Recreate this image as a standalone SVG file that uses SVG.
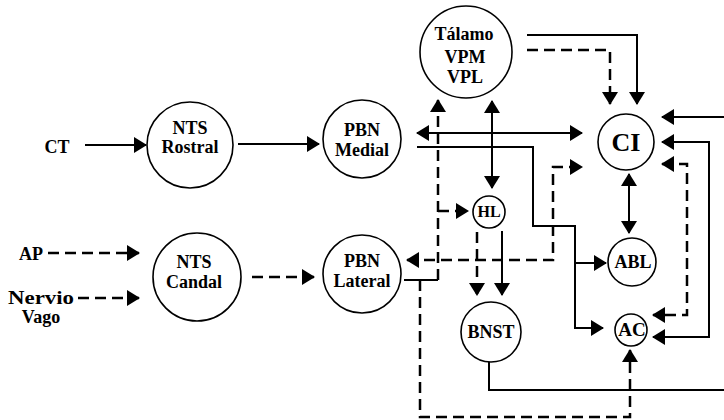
<svg xmlns="http://www.w3.org/2000/svg" width="724" height="420" viewBox="0 0 724 420">
<defs>
<marker id="ah" markerUnits="userSpaceOnUse" markerWidth="13" markerHeight="16" refX="12" refY="8" orient="auto-start-reverse">
<path d="M0,0 L13,8 L0,16 z" fill="#000"/>
</marker>
<style>
.n circle{fill:#fff;stroke:#000;stroke-width:1.6}
.n text, .lbl{font-family:"Liberation Serif","Times New Roman",serif;font-weight:bold;fill:#000;text-anchor:middle}
.s{fill:none;stroke:#000;stroke-width:2}
.d{fill:none;stroke:#000;stroke-width:2.5;stroke-dasharray:11 6}
</style>
</defs>
<rect width="724" height="420" fill="#fff"/>
<g id="connectors">
<path class="s" d="M85,145 H146" marker-end="url(#ah)"/>
<path class="s" d="M238,144 H319" marker-end="url(#ah)"/>
<path class="s" d="M417,133 H582" marker-start="url(#ah)" marker-end="url(#ah)"/>
<path class="s" d="M417,147 H533 V226 H575 V328 H603" marker-end="url(#ah)"/>
<path class="s" d="M575,263 H606" marker-end="url(#ah)"/>
<path class="s" d="M492,101 V188" marker-start="url(#ah)" marker-end="url(#ah)"/>
<path class="s" d="M527,35 H637 V104" marker-end="url(#ah)"/>
<path class="s" d="M629,174 V233" marker-start="url(#ah)" marker-end="url(#ah)"/>
<path class="s" d="M662,142 H709 V337 H653" marker-start="url(#ah)" marker-end="url(#ah)"/>
<path class="s" d="M502,231 V295" marker-end="url(#ah)"/>
<path class="s" d="M489,362 V390 H724"/>
<path class="s" d="M724,117 H662" marker-end="url(#ah)"/>
<path class="s" d="M404,280 H438"/>
<path class="d" d="M48,253 H139" marker-end="url(#ah)"/>
<path class="d" d="M78,298 H139" marker-end="url(#ah)"/>
<path class="d" d="M252,277 H314" marker-end="url(#ah)"/>
<path class="d" d="M527,50 H610 V104" marker-end="url(#ah)"/>
<path class="d" d="M438,280 V100" marker-end="url(#ah)"/>
<path class="d" d="M438,211 H468" marker-end="url(#ah)"/>
<path class="d" d="M420,280 V417 H630 V350" marker-end="url(#ah)"/>
<path class="d" d="M407,260 H553 V167 H582" marker-start="url(#ah)" marker-end="url(#ah)"/>
<path class="d" d="M477,232 V295" marker-end="url(#ah)"/>
<path class="d" d="M662,164 H687 V315 H653" marker-start="url(#ah)" marker-end="url(#ah)"/>
</g>
<g id="ct"><text class="lbl" x="57" y="153" font-size="18">CT</text></g>
<g id="ap"><text class="lbl" x="31" y="260" font-size="18">AP</text></g>
<g id="nervio"><text class="lbl" x="41" y="304" font-size="18" textLength="66" lengthAdjust="spacingAndGlyphs">Nervio</text><text class="lbl" x="41" y="323" font-size="18">Vago</text></g>
<g id="nts-rostral" class="n"><circle cx="190" cy="145" r="43"/><text x="190" y="134" font-size="18">NTS</text><text x="190" y="153" font-size="18">Rostral</text></g>
<g id="nts-caudal" class="n"><circle cx="197" cy="277" r="44"/><text x="194" y="268" font-size="18">NTS</text><text x="194" y="288" font-size="18">Candal</text></g>
<g id="pbn-medial" class="n"><circle cx="362" cy="139" r="39"/><text x="362" y="136" font-size="18">PBN</text><text x="362" y="156" font-size="18">Medial</text></g>
<g id="pbn-lateral" class="n"><circle cx="362" cy="274" r="39"/><text x="362" y="267" font-size="18">PBN</text><text x="362" y="287" font-size="18">Lateral</text></g>
<g id="talamo" class="n"><circle cx="466" cy="52" r="46"/><text x="464" y="40" font-size="18">Tálamo</text><text x="465" y="63" font-size="18">VPM</text><text x="465" y="83" font-size="18">VPL</text></g>
<g id="hl" class="n"><circle cx="489" cy="212" r="16"/><text x="489" y="217" font-size="16">HL</text></g>
<g id="ci" class="n"><circle cx="626" cy="142" r="28"/><text x="626" y="151" font-size="26">CI</text></g>
<g id="abl" class="n"><circle cx="632" cy="262" r="24"/><text x="633" y="268" font-size="18">ABL</text></g>
<g id="ac" class="n"><circle cx="631" cy="330" r="16"/><text x="632" y="336" font-size="19">AC</text></g>
<g id="bnst" class="n"><circle cx="491" cy="332" r="30"/><text x="491" y="338" font-size="18">BNST</text></g>
</svg>
